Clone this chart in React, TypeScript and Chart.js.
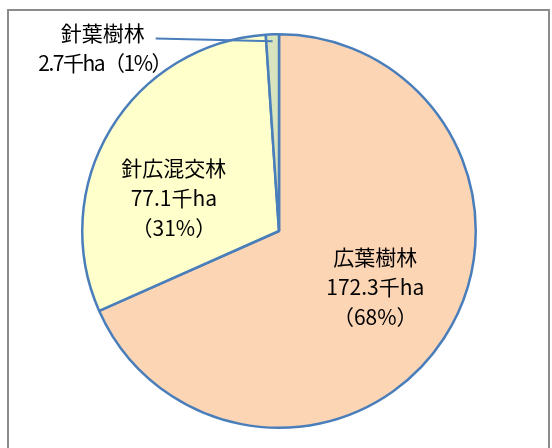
import React, { useEffect, useRef } from "react";
import { Chart, registerables } from "chart.js";

Chart.register(...registerables);

const categories = ["広葉樹林", "針広混交林", "針葉樹林"];
const areas = [172.3, 77.1, 2.7];
const areaLabels = ["172.3千ha", "77.1千ha", "2.7千ha"];
const percentLabels = ["（68%）", "（31%）", "（1%）"];

const colors = ["#FCD5B5", "#FFFFCC", "#D7E4BD"];
const borderColor = "#4A7EBB";
const FONT = '21px "Noto Sans CJK JP", "Noto Sans", sans-serif';

// label placement in polar terms relative to the pie (angle clockwise from top, radius fraction)
const placement = [
  { angle: 120, r: 0.565, outside: false },
  { angle: 287.4, r: 0.56, outside: false },
  { angle: 316, r: 1.29, outside: true },
];

const labelPlugin = {
  id: "labels",
  beforeDraw(chart: any) {
    const ctx = chart.ctx;
    ctx.save();
    ctx.strokeStyle = "#8C8C8C";
    ctx.lineWidth = 2;
    ctx.strokeRect(8, 10, 541, 460);
    ctx.restore();
  },
  afterDatasetsDraw(chart: any) {
    const ctx = chart.ctx;
    const meta = chart.getDatasetMeta(0);
    const arc0 = meta.data[0];
    const cx = arc0.x;
    const cy = arc0.y;
    const R = arc0.outerRadius;
    ctx.save();
    ctx.font = FONT;
    ctx.fillStyle = "#000";
    ctx.textAlign = "center";
    ctx.textBaseline = "middle";
    const lh = 30;
    categories.forEach((name, i) => {
      const p = placement[i];
      const a = (p.angle * Math.PI) / 180;
      const x = cx + Math.sin(a) * R * p.r;
      const y = cy - Math.cos(a) * R * p.r;
      if (!p.outside) {
        ctx.fillText(name, x, y - lh);
        ctx.fillText(areaLabels[i], x, y);
        ctx.fillText(percentLabels[i], x, y + lh);
      } else {
        const y1 = y - lh / 2;
        const y2 = y + lh / 2;
        ctx.fillText(name, x, y1);
        ctx.save();
        (ctx as any).letterSpacing = "-1.5px";
        ctx.fillText(areaLabels[i] + percentLabels[i], x + 2, y2);
        ctx.restore();
        const w = ctx.measureText(name).width;
        const arc = meta.data[i];
        const mid = (arc.startAngle + arc.endAngle) / 2;
        const ex = cx + Math.cos(mid) * R * 0.965;
        const ey = cy + Math.sin(mid) * R * 0.965;
        ctx.strokeStyle = borderColor;
        ctx.lineWidth = 2;
        ctx.beginPath();
        ctx.moveTo(x + w / 2 + 11, y1 + 5);
        ctx.lineTo(ex, ey);
        ctx.stroke();
      }
    });
    ctx.restore();
  },
};

export default function App() {
  const ref = useRef<HTMLCanvasElement>(null);
  useEffect(() => {
    if (!ref.current) return;
    const chart = new Chart(ref.current, {
      type: "pie",
      data: {
        labels: categories,
        datasets: [
          {
            data: areas,
            backgroundColor: colors,
            borderColor: borderColor,
            borderWidth: 2.5,
          },
        ],
      },
      options: {
        responsive: false,
        animation: false,
        layout: { padding: { top: 33, bottom: 19, left: 81, right: 75 } },
        plugins: { legend: { display: false }, tooltip: { enabled: false } },
      },
      plugins: [labelPlugin],
    });
    return () => chart.destroy();
  }, []);
  return (
    <div style={{ position: "fixed", left: 0, top: 0, width: 552, height: 448, background: "#fff" }}>
      <canvas ref={ref} width={552} height={448} style={{ display: "block" }} />
    </div>
  );
}
